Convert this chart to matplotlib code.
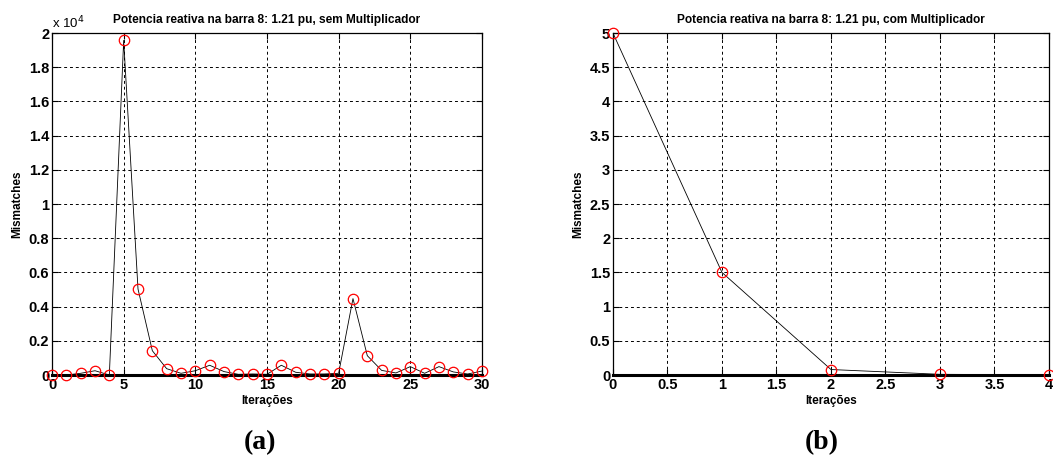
import matplotlib
matplotlib.use("Agg")
import matplotlib.pyplot as plt
from matplotlib.ticker import FuncFormatter, MultipleLocator

# iterations and mismatches, case (a) in units of 10^4
iter_a = list(range(0, 31))
mism_a = [0.0, 0.0, 0.01, 0.025, 0.0, 1.957, 0.503, 0.142, 0.037, 0.01,
          0.025, 0.057, 0.02, 0.004, 0.006, 0.004, 0.057, 0.016, 0.006, 0.006,
          0.01, 0.447, 0.113, 0.027, 0.012, 0.049, 0.01, 0.049, 0.018, 0.006,
          0.023]

iter_b = [0, 1, 2, 3, 4]
mism_b = [5.0, 1.5, 0.08, 0.01, 0.003]

title_a = 'Potencia reativa na barra 8: 1.21 pu, sem Multiplicador'
title_b = 'Potencia reativa na barra 8: 1.21 pu, com Multiplicador'

plt.rcParams['font.family'] = 'Liberation Sans'

fig = plt.figure(figsize=(10.53, 4.59), dpi=100)
ax1 = fig.add_axes([0.0494, 0.183, 0.4083, 0.745])
ax2 = fig.add_axes([0.5821, 0.183, 0.4141, 0.745])

fmt = FuncFormatter(lambda v, p: '%g' % round(v, 6))


def setup(ax, x, y, title, xmax, xstep, ymax, ystep):
    ax.plot(x, y, color='black', lw=0.6, zorder=3)
    ax.plot(x, y, ls='none', marker='o', ms=7.5, mfc='none', mec='red',
            mew=0.9, zorder=4, clip_on=False)
    ax.set_xlim(0, xmax)
    ax.set_ylim(0, ymax)
    ax.xaxis.set_major_locator(MultipleLocator(xstep))
    ax.yaxis.set_major_locator(MultipleLocator(ystep))
    ax.xaxis.set_major_formatter(fmt)
    ax.yaxis.set_major_formatter(fmt)
    ax.grid(True, color='black', ls=(0, (3, 3)), lw=0.7)
    ax.tick_params(direction='in', length=4, width=0.8, top=True, right=True,
                   labelsize=10.5, pad=2)
    for lab in ax.get_xticklabels() + ax.get_yticklabels():
        lab.set_fontweight('bold')
    for s in ax.spines.values():
        s.set_linewidth(0.9)
    ax.spines['bottom'].set_linewidth(2.2)
    ax.set_title(title, fontsize=8.6, fontweight='bold', pad=7)
    ax.set_xlabel('Iterações', fontsize=8.5, fontweight='bold', labelpad=2)
    ax.set_ylabel('Mismatches', fontsize=8.5, fontweight='bold', labelpad=4)


setup(ax1, iter_a, mism_a, title_a, 30, 5, 2, 0.2)
setup(ax2, iter_b, mism_b, title_b, 4, 0.5, 5, 0.5)

ax1.text(0.0, 1.005, r'x 10$^4$', transform=ax1.transAxes, fontsize=9.5,
         ha='left', va='bottom')

fig.text(0.247, 0.035, '(a)', fontsize=20, fontweight='bold',
         family='Liberation Serif', ha='center', va='center')
fig.text(0.780, 0.035, '(b)', fontsize=20, fontweight='bold',
         family='Liberation Serif', ha='center', va='center')

fig.savefig('out.png', dpi=100)
